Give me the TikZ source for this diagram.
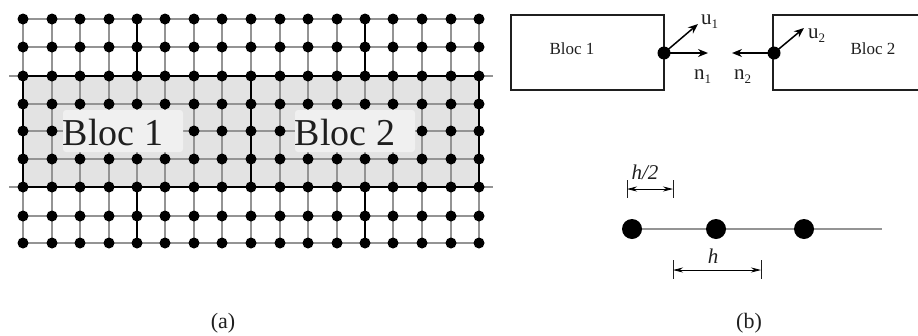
\documentclass[tikz,border=0pt]{standalone}
\usepackage{fontspec}
\setmainfont{Liberation Serif}
\usetikzlibrary{arrows.meta}
\definecolor{thinline}{gray}{0.58}
\definecolor{areafill}{gray}{0.89}
\definecolor{labelbox}{gray}{0.94}
\definecolor{ink}{gray}{0.12}
\newcommand{\subs}[1]{\raisebox{-4pt}{\fontsize{13}{13}\selectfont #1}}
\tikzset{
  x=1pt,y=-1pt,
  gridline/.style={draw=thinline,line width=1.1pt},
  heavy/.style={draw=black,line width=2.8pt},
  griddot/.style={circle,fill=black,inner sep=0pt,minimum size=11pt},
  bigdot/.style={circle,fill=black,inner sep=0pt,minimum size=20pt},
  middot/.style={circle,fill=black,inner sep=0pt,minimum size=13pt},
  lab/.style={inner sep=0pt,text=ink},
  arr/.style={line width=1.5pt,-{Stealth[length=10pt,width=8pt]}},
  dim/.style={line width=.8pt,{Stealth[length=10pt,width=5pt]}-{Stealth[length=10pt,width=5pt]}},
  tick/.style={line width=.8pt,draw=ink},
  boxline/.style={draw=ink,line width=1.6pt},
}
\begin{document}
\begin{tikzpicture}
\useasboundingbox (0,0) rectangle (918,335);
\fill[areafill] (23,76) rectangle (479,187);
\foreach \x in {23,52,80,109,137,165,194,222,251,280,308,337,365,393,422,451,479}
  \draw[gridline] (\x,19) -- (\x,243);
\foreach \y in {19,47,76,104,131,159,187,216,243}
  \draw[gridline] (23,\y) -- (479,\y);
\draw[gridline] (9,76) -- (23,76) (479,76) -- (493,76) (9,187) -- (23,187) (479,187) -- (493,187);
\draw[heavy] (23,76) rectangle (479,187);
\draw[heavy] (251,76) -- (251,187);
\draw[heavy] (137,19) -- (137,76) (365,19) -- (365,76) (137,187) -- (137,243) (365,187) -- (365,243);
\foreach \x in {23,52,80,109,137,165,194,222,251,280,308,337,365,393,422,451,479}
  \foreach \y in {19,47,76,104,131,159,187,216,243}
    \node[griddot] (g\x-\y) at (\x,\y) {};
\fill[labelbox,rounded corners=3pt] (63,110) rectangle (183,152);
\fill[labelbox,rounded corners=3pt] (295,110) rectangle (415,152);
\node[lab,font=\fontsize{38}{40}\selectfont] (b1) at (113,132) {Bloc 1};
\node[lab,font=\fontsize{38}{40}\selectfont] (b2) at (345,132) {Bloc 2};
% right top
\draw[boxline] (664,53) -- (664,15) -- (511,15) -- (511,90) -- (664,90) -- (664,53);
\draw[boxline] (918,15) -- (773,15) -- (773,90) -- (918,90);
\node[middot] (p1) at (664,53) {};
\node[middot] (p2) at (774,53) {};
\coordinate (u1e) at (698,24);
\coordinate (n1e) at (708,53);
\coordinate (u2e) at (804,28);
\coordinate (n2e) at (732,53);
\draw[arr] (p1.center) -- (u1e);
\draw[arr] (p1.center) -- (n1e);
\draw[arr] (p2.center) -- (u2e);
\draw[arr] (p2.center) -- (n2e);
\node[lab,font=\fontsize{17}{18}\selectfont] (l1) at (572,49) {Bloc 1};
\node[lab,font=\fontsize{17}{18}\selectfont] (l2) at (873,49) {Bloc 2};
\node[lab,font=\fontsize{21}{22}\selectfont,anchor=base west] (tu1) at (701,24) {u\subs{1}};
\node[lab,font=\fontsize{21}{22}\selectfont,anchor=base west] (tu2) at (808,38) {u\subs{2}};
\node[lab,font=\fontsize{21}{22}\selectfont,anchor=base west] (tn1) at (694,79) {n\subs{1}};
\node[lab,font=\fontsize{21}{22}\selectfont,anchor=base west] (tn2) at (734,79) {n\subs{2}};
% right bottom
\draw[draw=thinline,line width=1.3pt] (632,229) -- (882,229);
\node[bigdot] (d1) at (632,229) {};
\node[bigdot] (d2) at (716,229) {};
\node[bigdot] (d3) at (804,229) {};
\coordinate (a) at (627,189); \coordinate (a1) at (627,180); \coordinate (a2) at (627,198);
\coordinate (b) at (673,189); \coordinate (b1t) at (673,180); \coordinate (b2t) at (673,198);
\coordinate (c) at (673,270); \coordinate (c1) at (673,260); \coordinate (c2) at (673,279);
\coordinate (e) at (761,270); \coordinate (e1) at (761,260); \coordinate (e2) at (761,279);
\draw[tick] (a1) -- (a2) (b1t) -- (b2t) (c1) -- (c2) (e1) -- (e2);
\draw[dim] (a) -- (b);
\draw[dim] (c) -- (e);
\node[lab,font=\fontsize{21}{22}\selectfont\itshape] (hh) at (645,172) {h/2};
\node[lab,font=\fontsize{21}{22}\selectfont\itshape] (h) at (713,256) {h};
\node[lab,font=\fontsize{22}{23}\selectfont] (capa) at (223,323) {(a)};
\node[lab,font=\fontsize{22}{23}\selectfont] (capb) at (749,323) {(b)};
\end{tikzpicture}
\end{document}
